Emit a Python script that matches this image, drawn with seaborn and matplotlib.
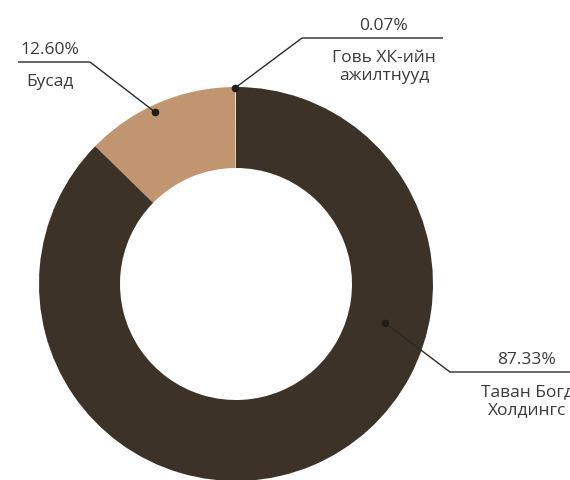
import matplotlib.pyplot as plt
import seaborn as sns

# slice order: counter-clockwise from the top
names = ['Говь ХК-ийн\nажилтнууд', 'Бусад', 'Таван Богд\nХолдингс']
shares = [0.07, 12.60, 87.33]
pct_text = ['0.07%', '12.60%', '87.33%']
colors = ['#f3ece2', '#c29571', '#3d3227']

sns.set_theme(style='white')
plt.rcParams['font.family'] = ['Open Sans', 'DejaVu Sans']

W, H = 570, 480
fig = plt.figure(figsize=(W / 100, H / 100), dpi=100)
ax = fig.add_axes([0, 0, 1, 1])

cx, cy, R, r = 236, H - 284, 197, 116
wedges, _ = ax.pie(shares, colors=colors, startangle=90, counterclock=True,
                   radius=R, center=(cx, cy),
                   wedgeprops=dict(width=R - r, linewidth=0))
wedges[0].set_edgecolor(colors[0])
wedges[0].set_linewidth(1.2)

ax.set_xlim(0, W)
ax.set_ylim(0, H)
ax.set_aspect('equal')
ax.axis('off')

# leader lines: dot -> elbow -> end, text x centre (pixel coords, y from top)
leaders = [
    ((235, 88), (302, 38), (443, 38), 384),
    ((155, 112), (90, 62), (18, 62), 50),
    ((385, 323), (450, 372), (590, 372), 527),
]
txt_col = '#3a3a3a'
for (dot, elbow, end, tx), pct, name in zip(leaders, pct_text, names):
    xs = [dot[0], elbow[0], end[0]]
    ys = [H - dot[1], H - elbow[1], H - end[1]]
    ax.plot(xs, ys, color='#2a2a2a', lw=1, solid_capstyle='butt', clip_on=False)
    ax.plot(dot[0], H - dot[1], 'o', color='#1e1e1e', ms=4.5)
    ax.text(tx, H - elbow[1] + 4, pct, ha='center', va='bottom',
            fontsize=12.5, color=txt_col)
    ax.text(tx, H - elbow[1] - 12, name, ha='center', va='top',
            fontsize=12.5, color=txt_col, linespacing=1.2)

fig.savefig('out.png', dpi=100)
